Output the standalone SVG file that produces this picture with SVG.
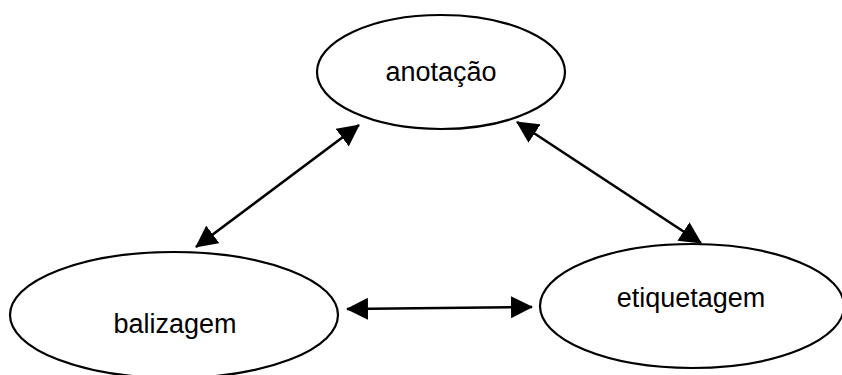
<svg xmlns="http://www.w3.org/2000/svg" width="842" height="375" viewBox="0 0 842 375">
<style>
.node ellipse{fill:#fff;stroke:#000;stroke-width:2.2}
.node text{font-family:"Liberation Sans",Arial,sans-serif;font-size:27px;fill:#000;text-anchor:middle}
.conn line{stroke:#000;stroke-width:2.6;marker-start:url(#ah);marker-end:url(#ah)}
</style>
<defs>
<marker id="ah" viewBox="0 0 22 22" refX="21" refY="11" markerWidth="22" markerHeight="22" markerUnits="userSpaceOnUse" orient="auto-start-reverse">
<path d="M0,0 L22,11 L0,22 z" fill="#000"/>
</marker>
</defs>
<rect width="842" height="375" fill="#fff"/>
<g id="anotacao" class="node">
<ellipse cx="441" cy="72" rx="124" ry="57"/>
<text x="441" y="81">anotação</text>
</g>
<g id="balizagem" class="node">
<ellipse cx="174" cy="315" rx="164" ry="63"/>
<text x="175" y="333">balizagem</text>
</g>
<g id="etiquetagem" class="node">
<ellipse cx="692" cy="306" rx="152" ry="62"/>
<text x="691" y="307">etiquetagem</text>
</g>
<g id="connectors" class="conn">
<line x1="359" y1="125" x2="196" y2="247"/>
<line x1="517" y1="122" x2="701" y2="243"/>
<line x1="347" y1="309" x2="532" y2="307"/>
</g>
</svg>
